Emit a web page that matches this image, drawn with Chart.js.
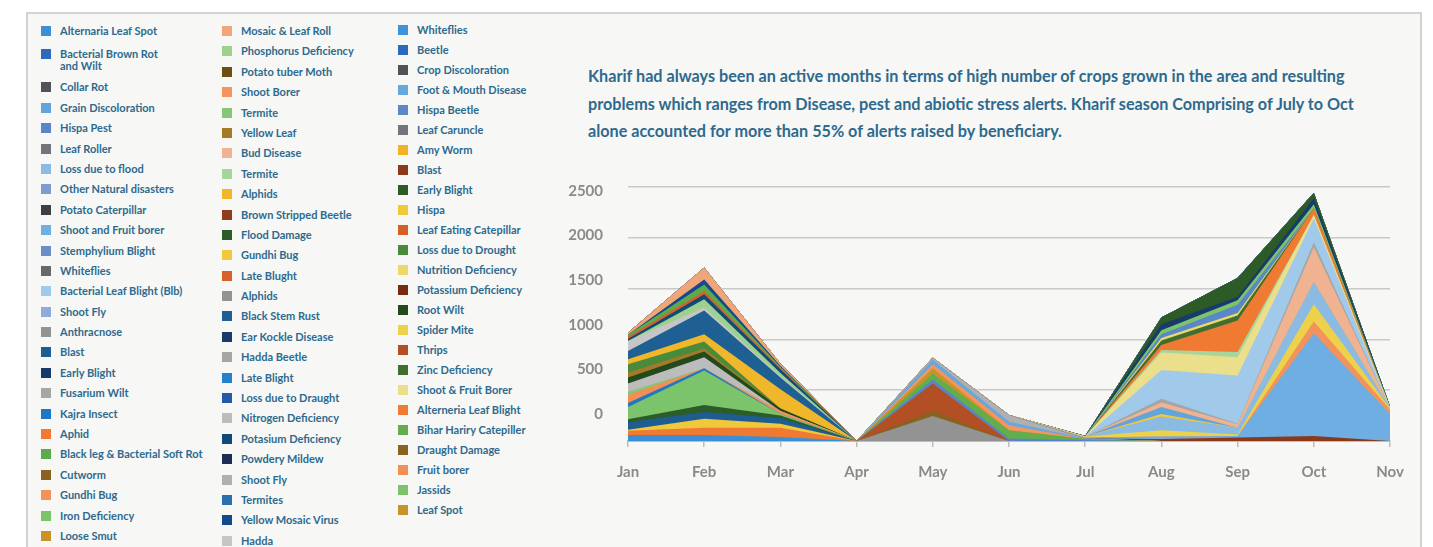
<!DOCTYPE html>
<html>
<head>
<meta charset="utf-8">
<script src="https://cdn.jsdelivr.net/npm/chart.js@4.4.1/dist/chart.umd.min.js"></script>
<style>
  body { margin: 0; background: #fff; font-family: Lato, 'Open Sans', sans-serif; }
  .panel { position: absolute; left: 26px; top: 12px; width: 1396px; height: 560px; box-sizing: border-box;
           background: #f7f7f5; border: 2px solid #d3d3d3; border-bottom: none; }
  .lg-col { position: absolute; }
  .lg-item { display: flex; align-items: flex-start; box-sizing: border-box; font-size: 11px; line-height: 12px;
             font-weight: 700; color: #2d6a8e; white-space: pre; }
  .lg-sw { width: 10px; height: 10px; flex: none; margin-top: 1px; }
  .note { position: absolute; left: 588px; top: 62px; font-size: 16.2px; line-height: 27.5px; font-weight: 700;
          color: #2d6a8e; white-space: nowrap; }
  .chart-box { position: absolute; left: 560px; top: 170px; width: 860px; height: 338px; }
</style>
</head>
<body>
<div class="panel"></div>
<div id="legend"></div>
<div class="note">Kharif had always been an active months in terms of high number of crops grown in the area and resulting<br>problems which ranges from Disease, pest and abiotic stress alerts. Kharif season Comprising of July to Oct<br>alone accounted for more than 55% of alerts raised by beneficiary.</div>
<div class="chart-box"><canvas id="alerts-chart"></canvas></div>

<script>
const months = ['Jan','Feb','Mar','Apr','May','Jun','Jul','Aug','Sep','Oct','Nov'];

const seriesNames = [
  'Alternaria Leaf Spot','Bacterial Brown Rot\nand Wilt','Collar Rot','Grain Discoloration','Hispa Pest',
  'Leaf Roller','Loss due to flood','Other Natural disasters','Potato Caterpillar','Shoot and Fruit borer',
  'Stemphylium Blight','Whiteflies','Bacterial Leaf Blight (Blb)','Shoot Fly','Anthracnose',
  'Blast','Early Blight','Fusarium Wilt','Kajra Insect','Aphid',
  'Black leg & Bacterial Soft Rot','Cutworm','Gundhi Bug','Iron Deficiency','Loose Smut',
  'Mosaic & Leaf Roll','Phosphorus Deficiency','Potato tuber Moth','Shoot Borer','Termite',
  'Yellow Leaf','Bud Disease','Termite','Alphids','Brown Stripped Beetle',
  'Flood Damage','Gundhi Bug','Late Blught','Alphids','Black Stem Rust',
  'Ear Kockle Disease','Hadda Beetle','Late Blight','Loss due to Draught','Nitrogen Deficiency',
  'Potasium Deficiency','Powdery Mildew','Shoot Fly','Termites','Yellow Mosaic Virus',
  'Hadda',
  'Whiteflies','Beetle','Crop Discoloration','Foot & Mouth Disease','Hispa Beetle',
  'Leaf Caruncle','Amy Worm','Blast','Early Blight','Hispa',
  'Leaf Eating Catepillar','Loss due to Drought','Nutrition Deficiency','Potassium Deficiency','Root Wilt',
  'Spider Mite','Thrips','Zinc Deficiency','Shoot & Fruit Borer','Alterneria Leaf Blight',
  'Bihar Hariry Catepiller','Draught Damage','Fruit borer','Jassids','Leaf Spot'
];

const seriesColors = [
  '#3b8fd5','#2d6abc','#505357','#62a5dd','#5a85c5',
  '#717478','#8bbae3','#7c9cd1','#3b3e42','#6eaee2',
  '#6b8ecb','#66696c','#a1c9ea','#8eabd9','#939393',
  '#1e5d92','#173a6c','#a6a6a6','#1f77c5','#f07a31',
  '#5daa4a','#886320','#f3925a','#7bc46b','#c8942a',
  '#f1a67a','#9dd28e','#6b4e16','#f4955e','#83c777',
  '#a47a27','#f0b391','#a6d69b','#f0b72b','#8e3c1d',
  '#2c5c28','#f0c83c','#d6602a','#929292','#1e5f94',
  '#183b6b','#a5a5a5','#2381cc','#2459a8','#bcbcbc',
  '#0f4a78','#1b2d57','#b0b0b0','#2a6fae','#134a8c',
  '#c6c6c6',
  '#3d93d8','#2b6bbc','#4f5256','#65a8de','#5a87c6',
  '#727579','#f0b423','#8a3a1b','#2d5b28','#f0c83a',
  '#d55f27','#4a8a3c','#ecd86b','#7a2a10','#234a1d',
  '#ecd24b','#b24f24','#3e6f31','#ecdf8c','#f07a31',
  '#63ad4c','#886320','#f28f55','#7cc36c','#c8942a'
];

// alerts per month, Jan..Nov, one row per series (same order as names)
const seriesValues = [
  [60,60,40,0,0,0,0,0,0,0,0],
  [0,0,0,0,0,0,0,0,0,0,0],
  [0,0,0,0,0,0,0,0,0,0,0],
  [0,0,0,0,0,0,0,70,0,0,0],
  [0,0,0,0,40,25,10,0,0,0,0],
  [0,0,0,0,0,0,0,0,0,0,0],
  [0,0,0,0,0,0,0,135,65,220,0],
  [0,0,0,0,0,0,0,0,0,0,0],
  [0,0,0,0,0,0,0,0,0,0,0],
  [0,0,0,0,0,0,10,25,15,1010,265],
  [0,0,0,0,0,0,0,0,0,0,0],
  [0,0,0,0,0,0,0,0,0,0,0],
  [0,0,0,0,0,0,0,285,475,235,0],
  [0,0,0,0,0,0,0,0,0,0,0],
  [0,0,0,0,245,0,0,0,0,0,0],
  [75,65,55,0,0,0,0,0,0,0,0],
  [0,0,0,0,0,0,0,0,0,0,0],
  [0,0,0,0,0,0,0,0,0,0,0],
  [40,20,0,0,0,0,0,0,0,0,0],
  [40,70,90,0,0,0,0,0,0,0,0],
  [20,65,15,0,0,0,0,0,0,0,0],
  [0,0,0,0,50,0,0,0,0,0,0],
  [0,0,0,0,0,0,0,0,0,115,45],
  [120,340,15,0,0,0,0,0,0,0,0],
  [0,0,0,0,0,0,0,0,0,0,0],
  [20,115,20,0,0,0,0,0,0,0,0],
  [0,80,35,0,0,0,0,0,0,0,0],
  [0,0,0,0,0,0,0,0,0,0,0],
  [0,0,0,0,40,50,0,0,0,0,0],
  [30,0,0,0,0,0,0,0,0,0,0],
  [50,30,0,0,0,0,0,0,0,0,0],
  [0,0,0,0,0,0,0,45,35,345,0],
  [0,0,0,0,0,0,0,25,50,0,0],
  [50,70,190,0,0,0,0,0,0,0,0],
  [0,0,0,0,0,0,0,0,0,0,0],
  [30,70,25,0,0,0,0,0,0,0,0],
  [10,90,40,0,0,0,0,0,0,0,0],
  [20,30,10,0,0,0,0,0,0,0,0],
  [0,0,0,0,0,0,0,0,0,0,0],
  [80,235,115,0,0,0,0,0,0,0,0],
  [0,0,0,0,0,0,0,60,35,60,0],
  [0,0,0,0,0,0,0,35,5,45,0],
  [0,0,0,0,0,0,0,0,0,0,0],
  [0,0,0,0,0,0,0,0,0,0,0],
  [80,110,0,0,0,0,0,0,0,0,0],
  [20,50,35,0,0,0,0,0,0,0,0],
  [0,0,0,0,0,0,0,0,0,0,0],
  [0,0,0,0,20,65,0,0,0,0,0],
  [0,0,0,0,0,0,0,0,0,0,0],
  [0,50,10,0,0,0,0,0,0,0,0],
  [100,30,10,0,0,0,0,0,0,0,0],
  [0,0,0,0,0,0,0,0,0,0,0],
  [0,0,0,0,0,0,0,0,0,0,0],
  [0,0,0,0,0,0,0,0,0,0,0],
  [0,0,0,0,45,35,5,0,0,0,0],
  [0,0,0,0,0,0,0,35,80,0,0],
  [0,0,0,0,0,0,0,0,0,0,0],
  [0,0,0,0,0,0,0,0,0,0,0],
  [0,0,0,0,0,0,0,20,35,50,0],
  [0,0,0,0,0,0,0,65,185,50,0],
  [0,0,0,0,0,0,0,25,0,0,0],
  [0,0,0,0,0,0,0,0,0,0,0],
  [80,70,0,0,0,0,0,0,0,0,0],
  [0,0,0,0,0,0,0,25,25,0,0],
  [0,0,0,0,0,0,0,0,0,0,0],
  [60,55,25,0,0,0,0,0,0,0,0],
  [0,0,0,0,0,0,10,60,15,170,10],
  [0,0,0,0,270,0,0,0,0,0,0],
  [0,0,0,0,0,0,0,45,50,0,0],
  [0,0,0,0,0,0,0,170,180,35,10],
  [0,0,0,0,0,0,0,50,310,65,0],
  [0,0,0,0,60,80,10,0,0,0,0],
  [0,0,0,0,0,0,0,0,0,0,0],
  [80,0,30,0,0,0,0,0,0,0,0],
  [0,0,0,0,0,0,5,40,45,40,10],
  [0,0,0,0,50,0,0,0,0,0,0]
];

// bottom-to-top stacking order (indices into the lists above)
const stackOrder = [
  0,19,36,15,35,23,18,73,29,44,65,30,62,33,39,50,26,45,37,20,49,25,
  14,21,67,4,71,75,28,54,47,
  58,9,22,66,6,60,3,31,41,12,69,32,70,68,63,55,74,40,59
];

const legendSplits = [0, 25, 51, 76];

// --- legend (html, three columns) ---
const legendCols = [
  { left: 41, top: 20.8, row: 20.4 },
  { left: 222, top: 20.8, row: 20.4 },
  { left: 398, top: 20, row: 20 }
];
const legendEl = document.getElementById('legend');
legendCols.forEach((c, ci) => {
  const col = document.createElement('div');
  col.className = 'lg-col';
  col.style.left = c.left + 'px';
  col.style.top = c.top + 'px';
  for (let i = legendSplits[ci]; i < legendSplits[ci + 1]; i++) {
    const twoLine = seriesNames[i].includes('\n');
    const item = document.createElement('div');
    item.className = 'lg-item';
    item.style.height = (twoLine ? 36 : c.row) + 'px';
    item.style.paddingTop = (twoLine ? 7 : (c.row - 12) / 2) + 'px';
    item.innerHTML = `<span class="lg-sw" style="background:${seriesColors[i]};margin-right:9px"></span><span></span>`;
    item.lastChild.textContent = seriesNames[i];
    col.appendChild(item);
  }
  legendEl.appendChild(col);
});

// --- chart ---
const rest = seriesNames.map((_, i) => i).filter(i => !stackOrder.includes(i));
const datasets = stackOrder.concat(rest).map(i => ({
  label: seriesNames[i],
  data: seriesValues[i],
  backgroundColor: seriesColors[i],
  borderWidth: 0,
  pointRadius: 0,
  fill: 'origin',
  tension: 0
}));

// y labels sit a little off the gridlines in the original
const yLabels = {
  id: 'yLabels',
  afterDraw(chart) {
    const { ctx, chartArea, scales: { y } } = chart;
    ctx.save();
    ctx.font = 'bold 15px Lato';
    ctx.fillStyle = '#8a8a8a';
    ctx.textAlign = 'right';
    ctx.textBaseline = 'middle';
    y.ticks.forEach(t => {
      const py = y.getPixelForValue(t.value);
      ctx.fillText(String(t.value), chartArea.left - 25, chartArea.top + 4 + (py - chartArea.top) * 0.878);
    });
    ctx.restore();
  }
};

new Chart(document.getElementById('alerts-chart'), {
  type: 'line',
  data: { labels: months, datasets },
  options: {
    responsive: true,
    maintainAspectRatio: false,
    animation: false,
    layout: { padding: { left: 68, right: 30, top: 17, bottom: 11 } },
    plugins: { legend: { display: false }, tooltip: { enabled: false } },
    scales: {
      x: {
        offset: false,
        grid: { display: true, drawOnChartArea: false, drawTicks: true, tickLength: 6, color: '#bdbdbd', lineWidth: 1.5 },
        border: { display: true, color: '#bdbdbd', width: 2 },
        ticks: { color: '#8a8a8a', font: { family: 'Lato', size: 15, weight: 'bold' }, padding: 16, maxRotation: 0 }
      },
      y: {
        stacked: true,
        min: 0,
        max: 2500,
        ticks: { display: false, stepSize: 500 },
        grid: { color: '#c9c9c9', lineWidth: 1.5, drawTicks: false },
        border: { display: false }
      }
    }
  },
  plugins: [yLabels]
});
</script>
</body>
</html>
